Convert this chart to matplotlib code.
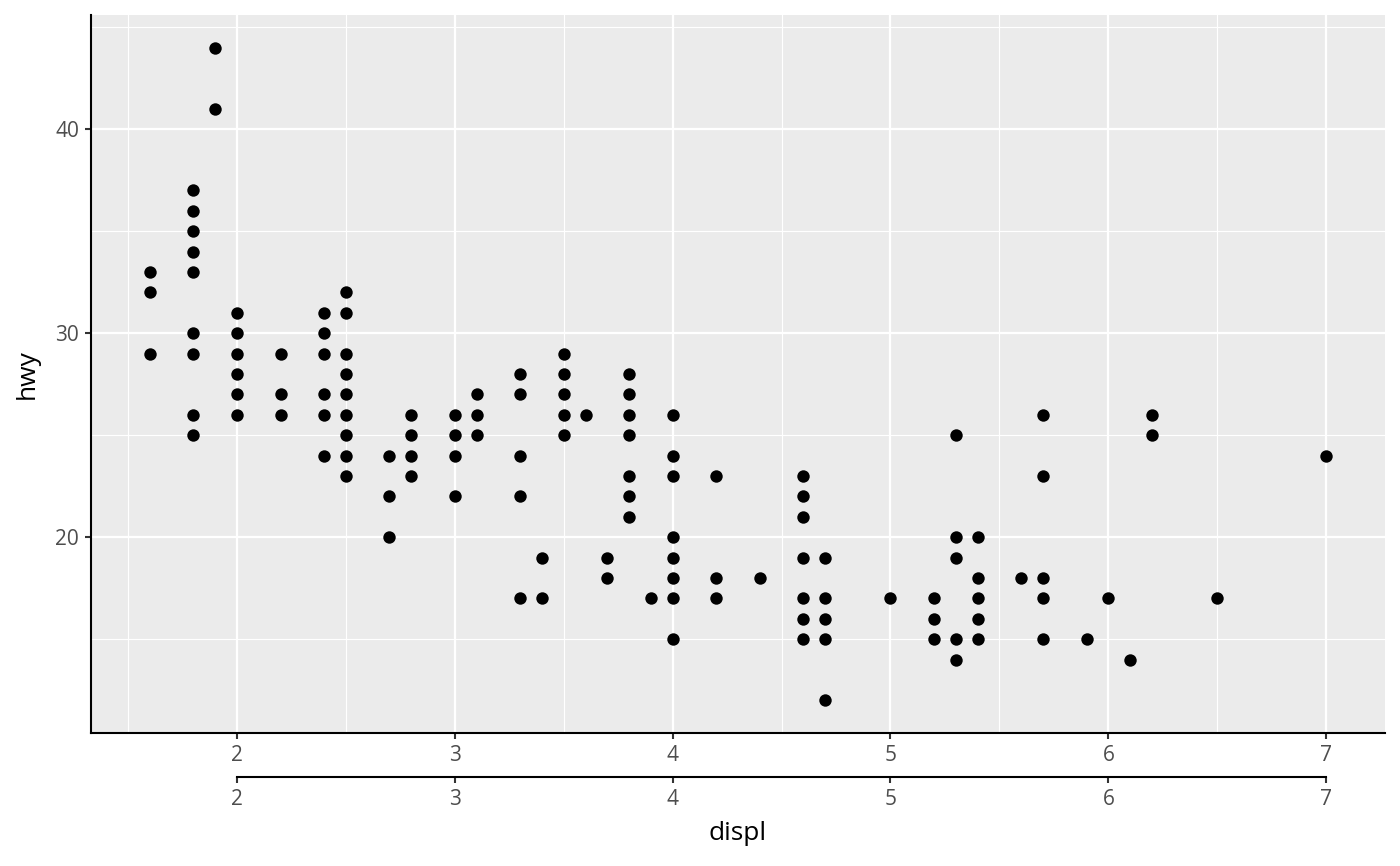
import matplotlib
matplotlib.use("Agg")
import matplotlib.pyplot as plt
import numpy as np

plt.rcParams['font.family'] = ['Open Sans', 'DejaVu Sans']

# displ -> hwy values (unique points as seen on the chart)
displ_groups = [1.6, 1.8, 1.9, 2.0, 2.2, 2.4, 2.5, 2.7, 2.8, 3.0, 3.1, 3.3, 3.4,
                3.5, 3.6, 3.7, 3.8, 3.9, 4.0, 4.2, 4.4, 4.6, 4.7, 5.0, 5.2, 5.3,
                5.4, 5.6, 5.7, 5.9, 6.0, 6.1, 6.2, 6.5, 7.0]
hwy_groups = [
    [33, 32, 29],
    [37, 36, 35, 34, 33, 30, 29, 26, 25],
    [44, 41],
    [31, 30, 29, 28, 27, 26],
    [29, 27, 26],
    [31, 30, 29, 27, 26, 24],
    [32, 31, 29, 28, 27, 26, 25, 24, 23],
    [24, 22, 20],
    [26, 25, 24, 23],
    [26, 25, 24, 22],
    [27, 26, 25],
    [28, 27, 24, 22, 17],
    [19, 17],
    [29, 28, 27, 26, 25],
    [26],
    [19, 18],
    [28, 27, 26, 25, 23, 22, 21],
    [17],
    [26, 24, 23, 20, 19, 18, 17, 15],
    [23, 18, 17],
    [18],
    [23, 22, 21, 19, 17, 16, 15],
    [19, 17, 16, 15, 12],
    [17],
    [17, 16, 15],
    [25, 20, 19, 15, 14],
    [20, 18, 17, 16, 15],
    [18],
    [26, 23, 18, 17, 15],
    [15],
    [17],
    [14],
    [26, 25],
    [17],
    [24],
]
x_ticks = [2, 3, 4, 5, 6, 7]
y_ticks = [20, 30, 40]

displ = np.concatenate([[d] * len(h) for d, h in zip(displ_groups, hwy_groups)])
hwy = np.concatenate(hwy_groups)

fig = plt.figure(figsize=(14, 8.66), dpi=100)
ax = fig.add_axes([91 / 1400, 1 - 733 / 866, 1294 / 1400, 718 / 866])
ax.set_facecolor('#EBEBEB')

ax.scatter(displ, hwy, s=80, color='black', linewidths=0, zorder=3)

xr = displ.max() - displ.min()
yr = hwy.max() - hwy.min()
ax.set_xlim(displ.min() - 0.05 * xr, displ.max() + 0.05 * xr)
ax.set_ylim(hwy.min() - 0.05 * yr, hwy.max() + 0.05 * yr)

ax.set_xticks(x_ticks)
ax.set_yticks(y_ticks)
ax.set_xticks(np.arange(1.5, 7.5, 1.0), minor=True)
ax.set_yticks([15, 25, 35, 45], minor=True)
ax.grid(which='major', color='white', linewidth=1.6, zorder=0)
ax.grid(which='minor', color='white', linewidth=0.8, zorder=0)
ax.set_axisbelow(True)

for side in ['top', 'right']:
    ax.spines[side].set_visible(False)
for side in ['left', 'bottom']:
    ax.spines[side].set_color('black')
    ax.spines[side].set_linewidth(1.5)

ax.tick_params(which='major', direction='out', length=4, width=1.5, color='#333333',
               labelcolor='#4D4D4D', labelsize=15, pad=4.5)
ax.tick_params(which='minor', length=0)

# second, stacked x axis with capped line
sec = ax.secondary_xaxis(-44 / 718)
sec.set_xticks(x_ticks)
sec.spines['bottom'].set_bounds(2, 7)
sec.spines['bottom'].set_color('black')
sec.spines['bottom'].set_linewidth(1.5)
sec.tick_params(direction='out', length=4, width=1.5, color='#333333',
                labelcolor='#4D4D4D', labelsize=15, pad=4.5)
sec.set_xlabel('displ', fontsize=19, color='black', labelpad=8)

ax.set_ylabel('hwy', fontsize=19, color='black', labelpad=11)

fig.savefig('out.png', dpi=100)
